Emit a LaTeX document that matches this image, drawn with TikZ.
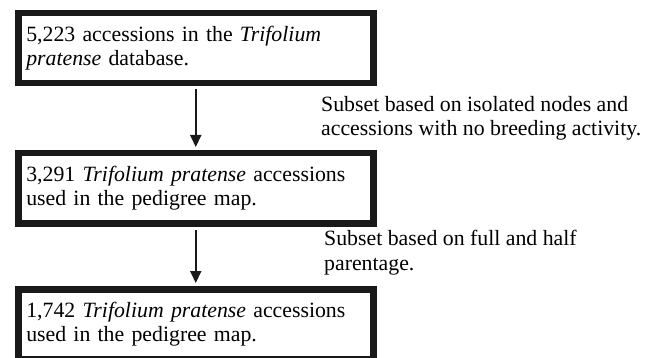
\documentclass[tikz,border=0pt]{standalone}
\usepackage{fontspec}
\setmainfont{Liberation Serif}
\usetikzlibrary{arrows.meta}
\begin{document}
\begin{tikzpicture}[x=1pt,y=-1pt,
  box/.style={draw=black!90, line width=6.5pt, rectangle, anchor=north west,
    minimum width=355pt, minimum height=70pt, text width=339pt, inner xsep=8pt,
    align=left, font=\fontsize{21.8}{24.5}\selectfont},
  note/.style={anchor=north west, inner sep=0pt, align=left,
    font=\fontsize{21.8}{24.5}\selectfont},
  arr/.style={line width=2pt, draw=black!90,
    -{Triangle[length=12pt,width=11pt]}, shorten <=3pt, shorten >=3pt}]
\useasboundingbox (0,0) rectangle (653,358);
\node[box] (b1) at (15,10) {5,223 accessions in the \textit{Trifolium}\\\textit{pratense} database.};
\node[box] (b2) at (15,150) {3,291 \textit{Trifolium pratense} accessions\\used in the pedigree map.};
\node[box] (b3) at (15,286) {1,742 \textit{Trifolium pratense} accessions\\used in the pedigree map.};
\draw[arr] (b1.south) -- (b2.north);
\draw[arr] (b2.south) -- (b3.north);
\node[note] (l1) at (321,96) {Subset based on isolated nodes and\\accessions with no breeding activity.};
\node[note] (l2) at (324,230) {Subset based on full and half\\parentage.};
\end{tikzpicture}
\end{document}
